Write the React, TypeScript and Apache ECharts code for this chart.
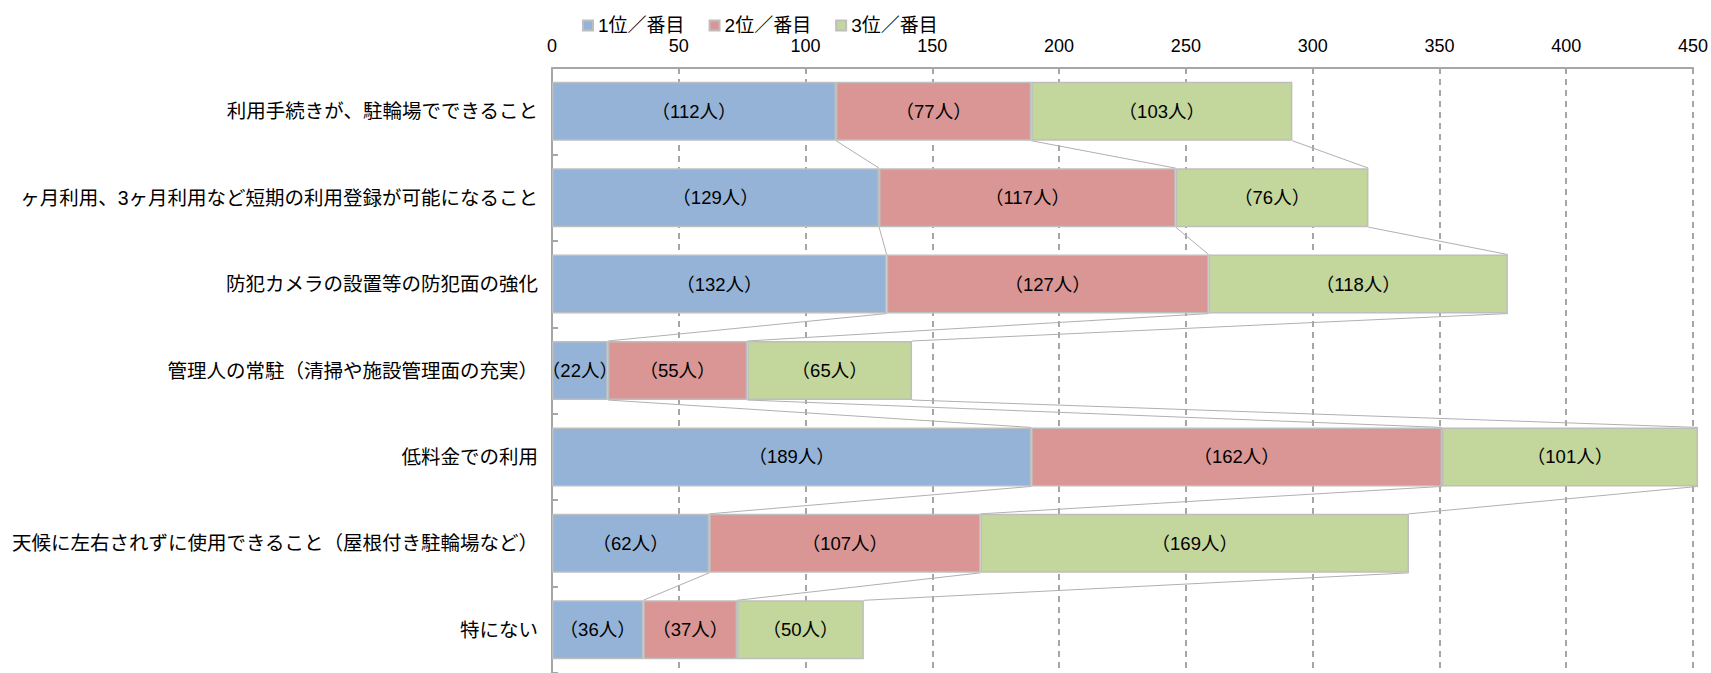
import React, { useEffect, useRef } from "react";
import * as echarts from "echarts";

const categories = [
  "利用手続きが、駐輪場でできること",
  "ヶ月利用、3ヶ月利用など短期の利用登録が可能になること",
  "防犯カメラの設置等の防犯面の強化",
  "管理人の常駐（清掃や施設管理面の充実）",
  "低料金での利用",
  "天候に左右されずに使用できること（屋根付き駐輪場など）",
  "特にない",
];
const seriesNames = ["1位／番目", "2位／番目", "3位／番目"];
const rank1 = [112, 129, 132, 22, 189, 62, 36];
const rank2 = [77, 117, 127, 55, 162, 107, 37];
const rank3 = [103, 76, 118, 65, 101, 169, 50];
const xTicks = { min: 0, max: 450, interval: 50 };
const colors = ["#95B3D7", "#D99694", "#C3D69B"];

const FONT = "'Liberation Sans', 'Noto Sans CJK JP', sans-serif";

export default function App() {
  const ref = useRef<HTMLDivElement>(null);
  useEffect(() => {
    document.body.style.margin = "0";
    if (!ref.current) return;
    const chart = echarts.init(ref.current, null, { renderer: "svg" });
    const all = [rank1, rank2, rank3];
    const cum = all.map((_, s) =>
      categories.map((__, i) => all.slice(0, s + 1).reduce((a, arr) => a + arr[i], 0))
    );
    const lineData: number[][] = [];
    for (let s = 0; s < 3; s++) {
      for (let i = 0; i < categories.length - 1; i++) {
        lineData.push([cum[s][i], i, cum[s][i + 1], i + 1]);
      }
    }
    const barW = 59;
    const barSeries = all.map((vals, s) => ({
      name: seriesNames[s],
      type: "bar",
      stack: "total",
      data: vals,
      barWidth: barW,
      clip: false,
      itemStyle: { color: colors[s], borderColor: "#BEBEBE", borderWidth: 1.5 },
      label: {
        show: true,
        position: "inside",
        formatter: (p: any) => `（${p.value}人）`,
        color: "#000",
        fontSize: 18.5,
        fontFamily: FONT,
      },
      z: 3,
    }));
    chart.setOption({
      animation: false,
      textStyle: { fontFamily: FONT },
      legend: {
        data: seriesNames,
        left: 577,
        top: 11,
        icon: "rect",
        itemWidth: 10,
        itemHeight: 10,
        itemGap: 24,
        textStyle: { fontSize: 19, color: "#000", fontFamily: FONT },
      },
      grid: { left: 552, right: 17, top: 68, bottom: 0, containLabel: false },
      xAxis: {
        type: "value",
        position: "top",
        min: xTicks.min,
        max: xTicks.max,
        interval: xTicks.interval,
        axisLine: { show: true, lineStyle: { color: "#A6A6A6", width: 2 } },
        axisTick: { show: false },
        axisLabel: { color: "#000", fontSize: 18, margin: 13, fontFamily: FONT },
        splitLine: { show: true, lineStyle: { color: "#A6A6A6", width: 2, type: [6, 5] } },
      },
      yAxis: {
        type: "category",
        inverse: true,
        data: categories,
        axisLine: { show: true, lineStyle: { color: "#A6A6A6", width: 2 } },
        axisTick: { show: true, inside: true, length: 6, lineStyle: { color: "#A6A6A6", width: 2 } },
        axisLabel: { color: "#000", fontSize: 19.5, margin: 14, fontFamily: FONT },
        splitLine: { show: false },
      },
      series: [
        ...barSeries,
        {
          type: "custom",
          silent: true,
          encode: { x: [0, 2], y: [1, 3] },
          data: lineData,
          z: 2,
          renderItem: (params: any, api: any) => {
            const p1 = api.coord([api.value(0), api.value(1)]);
            const p2 = api.coord([api.value(2), api.value(3)]);
            return {
              type: "line",
              shape: { x1: p1[0], y1: p1[1] + barW / 2, x2: p2[0], y2: p2[1] - barW / 2 },
              style: { stroke: "#B0B0B0", lineWidth: 1 },
            };
          },
        },
      ],
    });
    return () => chart.dispose();
  }, []);
  return <div ref={ref} style={{ width: 1711, height: 673 }} />;
}
